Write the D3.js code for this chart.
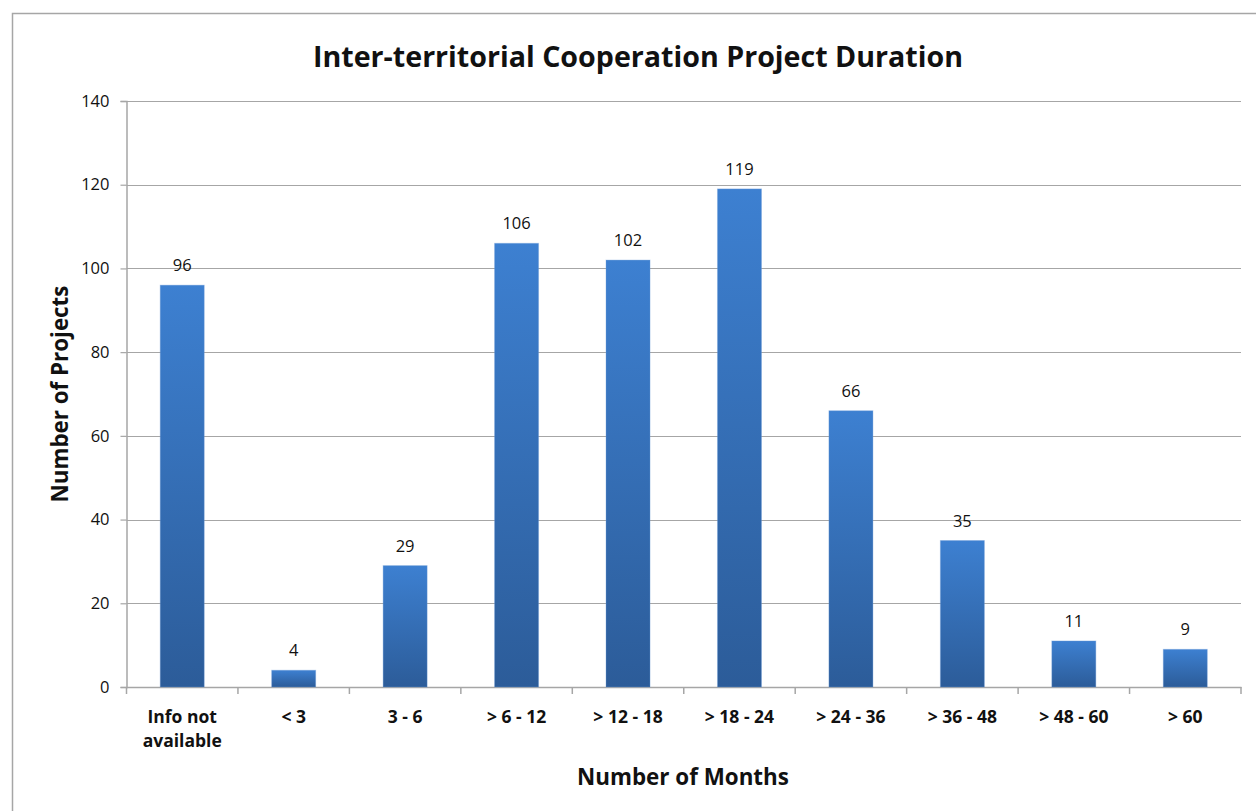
<!DOCTYPE html>
<html>
<head>
<meta charset="utf-8">
<script src="https://cdn.jsdelivr.net/npm/d3@7"></script>
<style>
  body { margin: 0; background: #fff; }
  svg { display: block; font-family: "Open Sans", sans-serif; }
</style>
</head>
<body>
<div id="chart"></div>
<script>
const categories = ["Info not|available", "< 3", "3 - 6", "> 6 - 12", "> 12 - 18", "> 18 - 24", "> 24 - 36", "> 36 - 48", "> 48 - 60", "> 60"];
const values = [96, 4, 29, 106, 102, 119, 66, 35, 11, 9];
const yTicks = [0, 20, 40, 60, 80, 100, 120, 140];

const width = 1256;
const height = 811;
const margin = { top: 101, right: 15, bottom: 124, left: 126.5 };

const svg = d3.select("#chart")
  .append("svg")
  .attr("width", width)
  .attr("height", height);

// outer chart frame (only left and top edges show in the crop)
svg.append("path")
  .attr("d", `M12.5,${height}V13.5H${width}`)
  .attr("fill", "none")
  .attr("stroke", "#a6a6a6")
  .attr("stroke-width", 1.5);

const defs = svg.append("defs");
const grad = defs.append("linearGradient")
  .attr("id", "barGrad")
  .attr("x1", 0).attr("y1", 0).attr("x2", 0).attr("y2", 1);
grad.append("stop").attr("offset", "0%").attr("stop-color", "#3d80d1");
grad.append("stop").attr("offset", "100%").attr("stop-color", "#2c5c99");

const x = d3.scaleBand()
  .domain(categories)
  .range([margin.left, width - margin.right])
  .padding(0);

const y = d3.scaleLinear()
  .domain([0, 140])
  .range([height - margin.bottom, margin.top]);

// gridlines
svg.append("g")
  .selectAll("line")
  .data(yTicks.slice(1))
  .join("line")
  .attr("x1", margin.left)
  .attr("x2", width - margin.right)
  .attr("y1", d => Math.round(y(d)) + 0.5)
  .attr("y2", d => Math.round(y(d)) + 0.5)
  .attr("stroke", "#a6a6a6")
  .attr("stroke-width", 1.2);

// y axis
const yAxis = svg.append("g")
  .attr("transform", `translate(${margin.left},0)`)
  .call(d3.axisLeft(y).tickValues(yTicks).tickSize(6).tickPadding(11));
yAxis.select(".domain").attr("stroke", "#a6a6a6").attr("stroke-width", 1.5);
yAxis.selectAll(".tick line").attr("stroke", "#a6a6a6").attr("stroke-width", 1.2);
yAxis.selectAll(".tick text")
  .attr("font-size", 16.5)
  .attr("font-family", "Open Sans, sans-serif")
  .attr("fill", "#111");

// x axis
const xAxis = svg.append("g")
  .attr("transform", `translate(0,${height - margin.bottom})`)
  .call(d3.axisBottom(x).tickSize(0).tickFormat(""));
xAxis.select(".domain").attr("stroke", "#a6a6a6").attr("stroke-width", 1.5);

// category boundary ticks
const bounds = categories.map(c => x(c)).concat([x(categories[categories.length - 1]) + x.bandwidth()]);
svg.append("g")
  .selectAll("line")
  .data(bounds)
  .join("line")
  .attr("x1", d => d)
  .attr("x2", d => d)
  .attr("y1", height - margin.bottom)
  .attr("y2", height - margin.bottom + 7)
  .attr("stroke", "#a6a6a6")
  .attr("stroke-width", 1.5);

// category labels
const labels = svg.append("g")
  .selectAll("text")
  .data(categories)
  .join("text")
  .attr("x", d => x(d) + x.bandwidth() / 2)
  .attr("y", height - margin.bottom + 36)
  .attr("text-anchor", "middle")
  .attr("font-size", 17.5)
  .attr("font-weight", "bold")
  .attr("fill", "#111");
labels.each(function(d) {
  const el = d3.select(this);
  d.split("|").forEach((line, i) => {
    el.append("tspan")
      .attr("x", x(d) + x.bandwidth() / 2)
      .attr("dy", i === 0 ? 0 : 24)
      .text(line);
  });
});

// bars
const barW = x.bandwidth() * 0.395;
const data = categories.map((c, i) => ({ c, v: values[i] }));
svg.append("g")
  .selectAll("rect")
  .data(data)
  .join("rect")
  .attr("x", d => x(d.c) + (x.bandwidth() - barW) / 2)
  .attr("y", d => y(d.v))
  .attr("width", barW)
  .attr("height", d => y(0) - y(d.v))
  .attr("fill", "url(#barGrad)")
  .attr("stroke", "#6d9ad6")
  .attr("stroke-opacity", 0.35)
  .attr("stroke-width", 1);

// value labels
svg.append("g")
  .selectAll("text")
  .data(data)
  .join("text")
  .attr("x", d => x(d.c) + x.bandwidth() / 2)
  .attr("y", d => y(d.v) - 14)
  .attr("text-anchor", "middle")
  .attr("font-size", 16.5)
  .attr("fill", "#111")
  .text(d => d.v);

// fit text to a given width by adjusting font size
function fitText(sel, target) {
  const w = sel.node().getComputedTextLength();
  const fs = parseFloat(sel.attr("font-size"));
  sel.attr("font-size", fs * target / w);
}

const title = svg.append("text")
  .attr("x", 638)
  .attr("y", 67)
  .attr("text-anchor", "middle")
  .attr("font-size", 28)
  .attr("font-weight", "bold")
  .attr("fill", "#111")
  .text("Inter-territorial Cooperation Project Duration");
fitText(title, 650);

const xTitle = svg.append("text")
  .attr("x", 683)
  .attr("y", 785)
  .attr("text-anchor", "middle")
  .attr("font-size", 21)
  .attr("font-weight", "bold")
  .attr("fill", "#111")
  .text("Number of Months");
fitText(xTitle, 212);

const yTitle = svg.append("text")
  .attr("transform", "translate(68,394) rotate(-90)")
  .attr("text-anchor", "middle")
  .attr("font-size", 21)
  .attr("font-weight", "bold")
  .attr("fill", "#111")
  .text("Number of Projects");
fitText(yTitle, 217);
</script>
</body>
</html>
